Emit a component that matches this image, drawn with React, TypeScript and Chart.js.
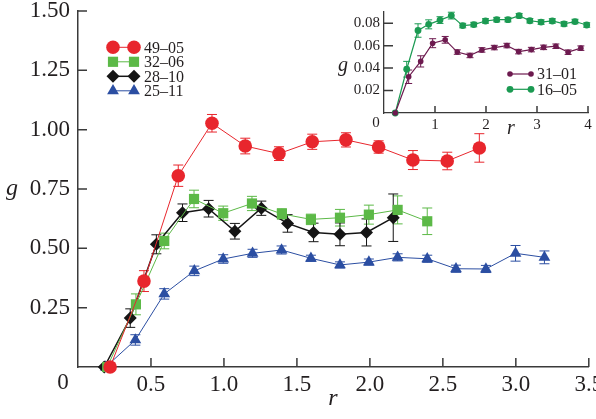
import React, { useEffect, useRef } from "react";
import { Chart, registerables } from "chart.js";
import { drawPoint } from "chart.js/helpers";

Chart.register(...registerables);

const FONT = '"Liberation Serif", "Times New Roman", serif';
const TEXT = "#231f20";
const AXIS = "#3a3a3a";

// ---------- main chart data ----------
const r49 = [0.22, 0.452, 0.687, 0.918, 1.146, 1.377, 1.605, 1.836, 2.06, 2.295, 2.53, 2.75];
const g49 = [0, 0.362, 0.806, 1.027, 0.931, 0.899, 0.949, 0.957, 0.927, 0.872, 0.868, 0.923];
const e49 = [0, 0.044, 0.045, 0.037, 0.033, 0.029, 0.032, 0.03, 0.026, 0.04, 0.037, 0.06];

const r32 = [0.2, 0.397, 0.591, 0.795, 0.995, 1.192, 1.397, 1.596, 1.795, 1.993, 2.19, 2.393];
const g32 = [0, 0.264, 0.531, 0.708, 0.648, 0.689, 0.645, 0.622, 0.629, 0.642, 0.662, 0.614];
const e32 = [0, 0.044, 0.033, 0.037, 0.03, 0.03, 0.022, 0.022, 0.035, 0.04, 0.059, 0.056];

const r28 = [0.18, 0.358, 0.537, 0.716, 0.895, 1.075, 1.256, 1.436, 1.614, 1.795, 1.977, 2.16];
const g28 = [0, 0.206, 0.517, 0.65, 0.667, 0.572, 0.669, 0.605, 0.567, 0.559, 0.567, 0.629];
const e28 = [0, 0.039, 0.04, 0.037, 0.035, 0.033, 0.03, 0.037, 0.039, 0.048, 0.057, 0.1];

const r25 = [0.19, 0.393, 0.591, 0.797, 0.995, 1.196, 1.395, 1.596, 1.795, 1.993, 2.19, 2.393, 2.59, 2.795, 2.998, 3.196];
const g25 = [0, 0.114, 0.308, 0.405, 0.455, 0.479, 0.493, 0.458, 0.43, 0.442, 0.462, 0.456, 0.414, 0.413, 0.479, 0.462];
const e25 = [0, 0.022, 0.022, 0.02, 0.018, 0.017, 0.017, 0.013, 0.013, 0.013, 0.015, 0.015, 0.015, 0.015, 0.033, 0.027];

const mainLabels = ["49–05", "32–06", "28–10", "25–11"];

// ---------- inset data ----------
const r31 = [0.22, 0.484, 0.719, 0.954, 1.2, 1.437, 1.686, 1.92, 2.163, 2.41, 2.64, 2.89, 3.13, 3.37, 3.61, 3.86];
const g31 = [0, 0.0323, 0.046, 0.0622, 0.0652, 0.0543, 0.0513, 0.0562, 0.0583, 0.0601, 0.0547, 0.0565, 0.0585, 0.0595, 0.0542, 0.0578];
const e31 = [0, 0.006, 0.005, 0.004, 0.003, 0.002, 0.002, 0.002, 0.002, 0.002, 0.002, 0.002, 0.002, 0.002, 0.002, 0.002];

const r16 = [0.22, 0.445, 0.667, 0.876, 1.098, 1.32, 1.543, 1.76, 1.99, 2.21, 2.43, 2.65, 2.86, 3.08, 3.3, 3.53, 3.745, 3.975];
const g16 = [0, 0.039, 0.0735, 0.079, 0.0828, 0.0868, 0.0779, 0.0788, 0.082, 0.0832, 0.0832, 0.0867, 0.0822, 0.081, 0.082, 0.0794, 0.0815, 0.0784];
const e16 = [0, 0.007, 0.006, 0.004, 0.003, 0.003, 0.002, 0.002, 0.002, 0.002, 0.002, 0.002, 0.002, 0.002, 0.002, 0.002, 0.002, 0.002];

const insetLabels = ["31–01", "16–05"];

type Series = {
  label: string;
  r: number[];
  g: number[];
  e: number[];
  color: string;
  style: string;
  radius: number;
  lineWidth: number;
};

const mainSeries: Series[] = [
  { label: mainLabels[0], r: r49, g: g49, e: e49, color: "#e8262d", style: "circle", radius: 6.8, lineWidth: 1 },
  { label: mainLabels[1], r: r32, g: g32, e: e32, color: "#5cb947", style: "rect", radius: 7.2, lineWidth: 1 },
  { label: mainLabels[2], r: r28, g: g28, e: e28, color: "#151515", style: "rectRot", radius: 6.5, lineWidth: 1.5 },
  { label: mainLabels[3], r: r25, g: g25, e: e25, color: "#2b4ea2", style: "triangle", radius: 6.8, lineWidth: 1 },
];

const insetSeries: Series[] = [
  { label: insetLabels[0], r: r31, g: g31, e: e31, color: "#6d1a4f", style: "circle", radius: 2.8, lineWidth: 1.2 },
  { label: insetLabels[1], r: r16, g: g16, e: e16, color: "#1b9a52", style: "circle", radius: 3.4, lineWidth: 1.2 },
];

function toDatasets(series: Series[]) {
  return series.map((s) => ({
    label: s.label,
    data: s.r.map((x, i) => ({ x, y: s.g[i] })),
    borderColor: s.color,
    backgroundColor: s.color,
    borderWidth: s.lineWidth,
    pointStyle: s.style,
    pointRadius: s.radius,
    pointBorderWidth: 0,
    pointBackgroundColor: s.color,
    tension: 0,
    clip: false as any,
  }));
}

function errorPlugin(series: Series[], cap: number, lw: number) {
  return {
    id: "errBars",
    beforeDatasetsDraw(chart: any) {
      const { ctx } = chart;
      const xs = chart.scales.x;
      const ys = chart.scales.y;
      ctx.save();
      ctx.lineWidth = lw;
      series.forEach((s) => {
        ctx.strokeStyle = s.color;
        s.r.forEach((r, i) => {
          const e = s.e[i];
          if (!e) return;
          const x = xs.getPixelForValue(r);
          const yTop = ys.getPixelForValue(s.g[i] + e);
          const yBot = ys.getPixelForValue(s.g[i] - e);
          ctx.beginPath();
          ctx.moveTo(x, yTop);
          ctx.lineTo(x, yBot);
          ctx.moveTo(x - cap, yTop);
          ctx.lineTo(x + cap, yTop);
          ctx.moveTo(x - cap, yBot);
          ctx.lineTo(x + cap, yBot);
          ctx.stroke();
        });
      });
      ctx.restore();
    },
  };
}

type Decor = {
  tickX: number;
  tickY: number;
  zeroX: number;
  zeroY: number;
  tickFont: number;
  gX: number;
  gY: number;
  rX: number;
  rY: number;
  titleFont: number;
  legend: { x1: number; x2: number; xt: number; y0: number; dy: number; font: number };
  series: Series[];
};

function decorPlugin(d: Decor) {
  return {
    id: "decor",
    afterDraw(chart: any) {
      const { ctx } = chart;
      const xs = chart.scales.x;
      const ys = chart.scales.y;
      ctx.save();
      // inward tick marks
      ctx.strokeStyle = AXIS;
      ctx.lineWidth = 1.5;
      ctx.beginPath();
      xs.ticks.forEach((t: any) => {
        if (t.value === 0) return;
        const x = xs.getPixelForValue(t.value);
        ctx.moveTo(x, ys.bottom);
        ctx.lineTo(x, ys.bottom - d.tickX);
      });
      ys.ticks.forEach((t: any) => {
        if (t.value === 0) return;
        const y = ys.getPixelForValue(t.value);
        ctx.moveTo(xs.left, y);
        ctx.lineTo(xs.left + d.tickY, y);
      });
      ctx.stroke();

      ctx.fillStyle = TEXT;
      // shared origin label
      ctx.font = `${d.tickFont}px ${FONT}`;
      ctx.textAlign = "center";
      ctx.textBaseline = "middle";
      ctx.fillText("0", d.zeroX, d.zeroY);

      // axis titles (upright italic)
      ctx.font = `italic ${d.titleFont}px ${FONT}`;
      ctx.fillText("g", d.gX, d.gY);
      ctx.fillText("r", d.rX, d.rY);

      // legend: marker — line — marker
      const L = d.legend;
      d.series.forEach((s, i) => {
        const y = L.y0 + i * L.dy;
        ctx.strokeStyle = s.color;
        ctx.lineWidth = s.lineWidth;
        ctx.beginPath();
        ctx.moveTo(L.x1, y);
        ctx.lineTo(L.x2, y);
        ctx.stroke();
        ctx.fillStyle = s.color;
        const opts: any = { pointStyle: s.style, radius: s.radius, rotation: 0, borderWidth: 0 };
        drawPoint(ctx, opts, L.x1, y);
        drawPoint(ctx, opts, L.x2, y);
        ctx.fillStyle = TEXT;
        ctx.font = `${L.font}px ${FONT}`;
        ctx.textAlign = "left";
        ctx.textBaseline = "middle";
        ctx.fillText(s.label, L.xt, y + 1);
      });
      ctx.restore();
    },
  };
}

function mainConfig(): any {
  return {
    type: "line",
    data: { datasets: toDatasets(mainSeries) },
    options: {
      animation: false,
      responsive: false,
      devicePixelRatio: 1,
      layout: { padding: { left: 0, right: 7, top: 11, bottom: 0 } },
      plugins: { legend: { display: false }, tooltip: { enabled: false } },
      scales: {
        x: {
          type: "linear",
          min: 0,
          max: 3.5,
          grid: { display: false, drawTicks: false, tickLength: 0 },
          border: { display: true, color: AXIS, width: 1.5 },
          ticks: {
            stepSize: 0.5,
            padding: 4,
            color: TEXT,
            font: { family: FONT, size: 23 },
            maxRotation: 0,
            autoSkip: false,
            callback: (v: number) => (v === 0 ? "" : v.toFixed(1)),
          },
          afterFit: (s: any) => {
            s.height = 52;
            s.paddingLeft = 0;
            s.paddingRight = 0;
          },
        },
        y: {
          type: "linear",
          min: 0,
          max: 1.5,
          grid: { display: false, drawTicks: false, tickLength: 0 },
          border: { display: true, color: AXIS, width: 1.5 },
          ticks: {
            stepSize: 0.25,
            padding: 8,
            color: TEXT,
            font: { family: FONT, size: 23 },
            callback: (v: number) => (v === 0 ? "" : v.toFixed(2)),
          },
          afterFit: (s: any) => {
            s.width = 78;
            s.paddingTop = 0;
            s.paddingBottom = 0;
          },
        },
      },
    },
    plugins: [
      errorPlugin(mainSeries, 5, 1),
      decorPlugin({
        tickX: 9,
        tickY: 9,
        zeroX: 63,
        zeroY: 383,
        tickFont: 23,
        gX: 12,
        gY: 189,
        rX: 333,
        rY: 399,
        titleFont: 24,
        legend: { x1: 113, x2: 134, xt: 144, y0: 47.3, dy: 14.5, font: 16 },
        series: mainSeries,
      }),
    ],
  };
}

function insetConfig(): any {
  return {
    type: "line",
    data: { datasets: toDatasets(insetSeries) },
    options: {
      animation: false,
      responsive: false,
      devicePixelRatio: 1,
      layout: { padding: { left: 0, right: 8, top: 12, bottom: 0 } },
      plugins: { legend: { display: false }, tooltip: { enabled: false } },
      scales: {
        x: {
          type: "linear",
          min: 0,
          max: 4,
          grid: { display: false, drawTicks: false, tickLength: 0 },
          border: { display: true, color: AXIS, width: 1.3 },
          ticks: {
            stepSize: 1,
            padding: 3,
            color: TEXT,
            font: { family: FONT, size: 15 },
            maxRotation: 0,
            autoSkip: false,
            callback: (v: number) => (v === 0 ? "" : String(v)),
          },
          afterFit: (s: any) => {
            s.height = 27;
            s.paddingLeft = 0;
            s.paddingRight = 0;
          },
        },
        y: {
          type: "linear",
          min: 0,
          max: 0.09,
          grid: { display: false, drawTicks: false, tickLength: 0 },
          border: { display: true, color: AXIS, width: 1.3 },
          ticks: {
            stepSize: 0.02,
            includeBounds: false,
            padding: 4,
            color: TEXT,
            font: { family: FONT, size: 15 },
            callback: (v: number) => (v === 0 ? "" : v.toFixed(2)),
          },
          afterFit: (s: any) => {
            s.width = 54;
            s.paddingTop = 0;
            s.paddingBottom = 0;
          },
        },
      },
    },
    plugins: [
      errorPlugin(insetSeries, 3.5, 1),
      decorPlugin({
        tickX: 7,
        tickY: 9,
        zeroX: 46,
        zeroY: 123,
        tickFont: 15,
        gX: 13,
        gY: 66,
        rX: 181,
        rY: 129,
        titleFont: 20,
        legend: { x1: 180, x2: 201, xt: 207, y0: 74, dy: 15.3, font: 16 },
        series: insetSeries,
      }),
    ],
  };
}

export default function App() {
  const mainRef = useRef<HTMLCanvasElement>(null);
  const insetRef = useRef<HTMLCanvasElement>(null);

  useEffect(() => {
    const main = new Chart(mainRef.current as HTMLCanvasElement, mainConfig());
    const inset = new Chart(insetRef.current as HTMLCanvasElement, insetConfig());
    return () => {
      main.destroy();
      inset.destroy();
    };
  }, []);

  return (
    <div style={{ position: "fixed", left: 0, top: 0, width: 596, height: 419, background: "#fff" }}>
      <canvas
        ref={mainRef}
        width={596}
        height={419}
        style={{ position: "absolute", left: 0, top: 0, width: 596, height: 419 }}
      />
      <canvas
        ref={insetRef}
        width={266}
        height={140}
        style={{ position: "absolute", left: 330, top: 0, width: 266, height: 140 }}
      />
    </div>
  );
}
